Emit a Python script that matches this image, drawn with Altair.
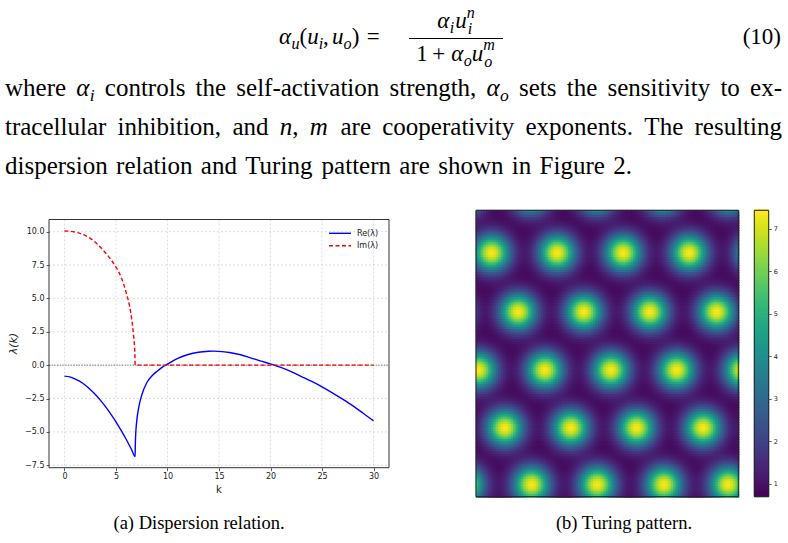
import altair as alt
import numpy as np
import pandas as pd

# ---------------- data ----------------
x_ticks = [0, 5, 10, 15, 20, 25, 30]
y_ticks = [-7.5, -5.0, -2.5, 0.0, 2.5, 5.0, 7.5, 10.0]
cb_ticks = [1, 2, 3, 4, 5, 6, 7]

re_k = [0, 0.5, 1, 1.5, 2, 2.5, 3, 3.5, 4, 4.5, 5, 5.5, 6, 6.5, 6.86,
        6.88, 6.92, 7.0, 7.2, 7.5, 8.0, 8.5, 9.0, 9.5, 10,
        11, 12, 13, 14, 14.5, 15, 16, 17, 18, 19, 20,
        21, 22, 23, 24, 25, 26, 27, 28, 29, 30]
re_v = [-0.82, -0.88, -1.02, -1.22, -1.49, -1.82, -2.2, -2.64, -3.13, -3.67, -4.25, -4.89, -5.57, -6.3, -6.85,
        -5.9, -5.1, -4.3, -3.2, -2.25, -1.3, -0.8, -0.45, -0.15, 0.07,
        0.5, 0.8, 0.97, 1.04, 1.05, 1.03, 0.95, 0.8, 0.57, 0.32, 0.1,
        -0.17, -0.48, -0.85, -1.22, -1.62, -2.07, -2.55, -3.05, -3.6, -4.17]

im_k = [0, 0.5, 1, 1.5, 2, 2.5, 3, 3.5, 4, 4.5, 5, 5.5, 6, 6.3, 6.5, 6.7, 6.8, 6.84, 6.86, 30]
im_v = [10.05, 10.03, 9.97, 9.87, 9.72, 9.5, 9.2, 8.83, 8.4, 7.92, 7.35, 6.6, 5.4, 4.5, 3.6, 2.3, 1.4, 0.7, 0.0, 0.0]

# Turing pattern: spot centres (pattern coordinates)
spot_x = [-11, 54.7, 120.7, 186.7, 252.7,
          15.7, 81.3, 147.3, 213.3, 279.3,
          -23.7, 42.3, 108, 174, 240.7,
          2.3, 69, 135, 200.7, 266.7,
          -37, 29, 95, 160.7, 227.3, 293,
          -10.3, 55.7, 121.3, 188, 252.3]
spot_y = [-15.3] * 5 + [43] * 5 + [102] * 5 + [160.3] * 5 + [218] * 6 + [274.7] * 5
pat_base = 0.70
pat_peak = 7.42
pat_w, pat_h = 262.3, 286.4
cb_lo, cb_hi = 0.69, 7.44

# ---------------- text helpers ----------------
one = alt.Data(values=[{"a": 1}])
SERIF = "Liberation Serif"

# Times-like advance widths (per 1000 em) used only to lay out the justified lines
W_T = dict(zip("abcdefghijklmnopqrstuvwxyz",
               [444, 500, 444, 500, 444, 333, 500, 500, 278, 278, 500, 278, 778, 500, 500, 500, 500, 333, 389, 278, 500, 500, 722, 500, 500, 444]))
W_T.update({"T": 611, "F": 556, ",": 250, ".": 250, "-": 333, "2": 500, "α": 540, "(": 333, ")": 333, " ": 250})


def tw(s, size):
    return sum(W_T.get(c, 500) for c in s) * size / 1000.0


def T(s, x, y, size=25, style="normal", font=SERIF, align="left",
      angle=0, baseline="alphabetic", color="black"):
    return alt.Chart(one).mark_text(
        text=s, font=font, fontSize=size, fontStyle=style, align=align,
        baseline=baseline, angle=angle, color=color
    ).encode(x=alt.value(x), y=alt.value(y))


FS = 25
SUB = 0.7


def token_width(tok):
    return sum(tw(s, FS * sc) for s, st, sc, dy in tok)


def place_line(tokens, y, x0=5, x1=782, justify=True):
    out = []
    widths = [token_width(t) for t in tokens]
    if justify:
        gap = (x1 - x0 - sum(widths)) / (len(tokens) - 1)
    else:
        gap = 0.333 * FS
    x = x0
    for tok, w in zip(tokens, widths):
        xx = x
        for s, st, sc, dy in tok:
            out.append(T(s, xx, y + dy, size=FS * sc, style=st))
            xx += tw(s, FS * sc)
        x += w + gap
    return out


def word(s):
    return [(s, "normal", 1.0, 0)]


def alpha_sub(c):
    return [("α", "italic", 1.0, 0), (c, "italic", SUB, 5)]


texts = []
line1 = [word("where"), alpha_sub("i"), word("controls"), word("the"), word("self-activation"),
         word("strength,"), alpha_sub("o"), word("sets"), word("the"), word("sensitivity"), word("to"), word("ex-")]
line2 = [word("tracellular"), word("inhibition,"), word("and"), [("n", "italic", 1.0, 0), (",", "normal", 1.0, 0)],
         [("m", "italic", 1.0, 0)], word("are"), word("cooperativity"), word("exponents."), word("The"), word("resulting")]
line3 = [word(w) for w in "dispersion relation and Turing pattern are shown in Figure 2.".split(" ")]
texts += place_line(line1, 96)
texts += place_line(line2, 135)
texts += place_line(line3, 174, justify=False)

# equation (10)
EQ = 23
es = EQ * SUB


def seq(pieces, x, y):
    out = []
    for s, st, sz, dy, adv in pieces:
        out.append(T(s, x, y + dy, size=sz, style=st))
        x += adv if adv is not None else tw(s, sz)
    return out, x


main_pieces = [("α", "italic", EQ, 0, None), ("u", "italic", es, 5, None), ("(", "normal", EQ, 0, None),
               ("u", "italic", EQ, 0, None), ("i", "italic", es, 5, None), (",", "normal", EQ, 0, 9),
               ("u", "italic", EQ, 0, None), ("o", "italic", es, 5, None), (")", "normal", EQ, 0, 15),
               ("=", "normal", EQ, 0, None)]
eq_main, _ = seq(main_pieces, 279, 44)
texts += eq_main
num_pieces = [("α", "italic", EQ, 0, None), ("i", "italic", es, 5, 5.5), ("u", "italic", EQ, 0, None)]
num_w = tw("α", EQ) + 5.5 + tw("u", EQ) + tw("n", es)
num, nx_end = seq(num_pieces, 456 - num_w / 2, 28)
texts += num + [T("n", nx_end, 18, size=es, style="italic"), T("i", nx_end + 1, 34, size=es, style="italic")]
den_pieces = [("1", "normal", EQ, 0, 16), ("+", "normal", EQ, 0, 19), ("α", "italic", EQ, 0, None),
              ("o", "italic", es, 5, None), ("u", "italic", EQ, 0, None)]
den_w = 16 + 19 + tw("α", EQ) + tw("o", es) + tw("u", EQ) + tw("m", es)
den, dx_end = seq(den_pieces, 456 - den_w / 2, 61)
texts += den + [T("m", dx_end, 50, size=es, style="italic"), T("o", dx_end + 1, 67, size=es, style="italic")]
texts += [T("(10)", 781, 44, size=EQ, align="right")]
frac_bar = alt.Chart(one).mark_rule(color="black", strokeWidth=1).encode(
    x=alt.value(409), x2=alt.value(503), y=alt.value(38.5))

# captions
texts += [
    T("(a) Dispersion relation.", 199, 529, size=18.5, align="center"),
    T("(b) Turing pattern.", 624, 529, size=18.5, align="center"),
]

# ---------------- left plot ----------------
L, R, TOP, BOT = 49, 389, 219.5, 467.7
xs_l = alt.Scale(domain=[-1.5, 31.5], range=[L, R], nice=False, zero=False)
ys_l = alt.Scale(domain=[-7.68, 10.91], range=[BOT, TOP], nice=False, zero=False)
ax_x = alt.Axis(values=x_ticks, orient="bottom", offset=-(543 - BOT), domain=False, grid=False,
                tickSize=3, tickColor="#333", tickWidth=0.8, labelFont="DejaVu Sans", labelFontSize=8,
                labelColor="#222", labelPadding=2, title=None, format="d")
ax_y = alt.Axis(values=y_ticks, orient="left", offset=-L, domain=False, grid=False,
                tickSize=3, tickColor="#333", tickWidth=0.8, labelFont="DejaVu Sans", labelFontSize=8,
                labelColor="#222", labelPadding=2, title=None, format=".1f")

df_xt = pd.DataFrame({"k": x_ticks})
df_yt = pd.DataFrame({"v": y_ticks})
grid_x = alt.Chart(df_xt).mark_rule(color="#d4d4d4", strokeWidth=0.8, strokeDash=[2, 2]).encode(
    x=alt.X("k:Q", scale=xs_l, axis=ax_x), y=alt.value(TOP), y2=alt.value(BOT))
grid_y = alt.Chart(df_yt).mark_rule(color="#d4d4d4", strokeWidth=0.8, strokeDash=[2, 2]).encode(
    y=alt.Y("v:Q", scale=ys_l, axis=ax_y), x=alt.value(L), x2=alt.value(R))
zero_line = alt.Chart(pd.DataFrame({"v": [0.0]})).mark_rule(color="#444", strokeWidth=0.8, strokeDash=[1.2, 1.5]).encode(
    y=alt.Y("v:Q", scale=ys_l, axis=ax_y), x=alt.value(L), x2=alt.value(R))
re_line = alt.Chart(pd.DataFrame({"k": re_k, "v": re_v})).mark_line(
    color="#0000ff", strokeWidth=1.4, interpolate="monotone").encode(
    x=alt.X("k:Q", scale=xs_l, axis=ax_x), y=alt.Y("v:Q", scale=ys_l, axis=ax_y), order="k:Q")
im_line = alt.Chart(pd.DataFrame({"k": im_k, "v": im_v})).mark_line(
    color="#ff0000", strokeWidth=1.4, strokeDash=[4, 2.5], interpolate="monotone").encode(
    x=alt.X("k:Q", scale=xs_l, axis=ax_x), y=alt.Y("v:Q", scale=ys_l, axis=ax_y), order="k:Q")
frame_l = alt.Chart(one).mark_rect(fillOpacity=0, stroke="#333", strokeWidth=1).encode(
    x=alt.value(L), x2=alt.value(R), y=alt.value(TOP), y2=alt.value(BOT))

leg = [
    alt.Chart(one).mark_rule(color="#0000ff", strokeWidth=1.4).encode(x=alt.value(329), x2=alt.value(351), y=alt.value(233.3)),
    alt.Chart(one).mark_rule(color="#ff0000", strokeWidth=1.4, strokeDash=[4, 2.5]).encode(x=alt.value(329), x2=alt.value(351), y=alt.value(245.7)),
    T("Re(λ)", 357, 233.6, size=8, font="DejaVu Sans", baseline="middle", color="#222"),
    T("Im(λ)", 357, 246, size=8, font="DejaVu Sans", baseline="middle", color="#222"),
    T("k", (L + R) / 2, 490, size=10, font="DejaVu Sans", align="center", baseline="middle", color="#222"),
    T("λ(k)", 13.5, (TOP + BOT) / 2, size=11, font="DejaVu Sans", style="italic", align="center",
      baseline="middle", angle=270, color="#222"),
]

left_plot = alt.layer(grid_x, grid_y, zero_line, re_line, im_line, frame_l)

# ---------------- heatmap ----------------
HL, HR, HT, HB = 476, 738.3, 210.3, 496.7
nx, ny = 105, 115
dx, dy = pat_w / nx, pat_h / ny
cx = (np.arange(nx) + 0.5) * dx
cy = (np.arange(ny) + 0.5) * dy
GX, GY = np.meshgrid(cx, cy)
sig = 12.7
F = np.zeros_like(GX)
for sx, sy in zip(spot_x, spot_y):
    F += np.exp(-((GX - sx) ** 2 + (GY - sy) ** 2) / (2 * sig ** 2))
F = pat_base + (pat_peak - pat_base) * F
hdf = pd.DataFrame({
    "x0": (GX - dx / 2).ravel(), "x1": (GX + dx / 2 + 0.8).ravel(),
    "y0": (GY - dy / 2).ravel(), "y1": (GY + dy / 2 + 0.8).ravel(),
    "v": F.ravel().round(3),
})
xs_h = alt.Scale(domain=[0, pat_w], range=[HL, HR], nice=False, zero=False)
ys_h = alt.Scale(domain=[0, pat_h], range=[HT, HB], nice=False, zero=False)
cscale = alt.Scale(scheme="viridis", domain=[cb_lo, cb_hi], clamp=True)
heat = alt.Chart(hdf).mark_rect(strokeWidth=0.6).encode(
    x=alt.X("x0:Q", scale=xs_h, axis=None), x2="x1:Q",
    y=alt.Y("y0:Q", scale=ys_h, axis=None), y2="y1:Q",
    color=alt.Color("v:Q", scale=cscale, legend=None),
    stroke=alt.Stroke("v:Q", scale=cscale, legend=None))
frame_h = alt.Chart(one).mark_rect(fillOpacity=0, stroke="#222", strokeWidth=1).encode(
    x=alt.value(HL), x2=alt.value(HR), y=alt.value(HT), y2=alt.value(HB))

# ---------------- colorbar ----------------
CL, CR = 754.3, 768.7
nb = 120
edges = np.linspace(cb_lo, cb_hi, nb + 1)
cbdf = pd.DataFrame({"a": [0.0] * nb, "b": [1.0] * nb, "lo": edges[:-1], "hi": edges[1:] + 0.02,
                     "v": (edges[:-1] + edges[1:]) / 2})
xs_c = alt.Scale(domain=[0, 1], range=[CL, CR], nice=False, zero=False)
ys_c = alt.Scale(domain=[cb_lo, cb_hi], range=[HB, HT], nice=False, zero=False)
ax_c = alt.Axis(values=cb_ticks, orient="right", offset=-(788 - CR), domain=False, grid=False,
                tickSize=2.5, tickColor="#333", tickWidth=0.8, labelFont="DejaVu Sans", labelFontSize=6.5,
                labelColor="#222", labelPadding=2, title=None, format="d")
cbar = alt.Chart(cbdf).mark_rect(strokeWidth=0.6).encode(
    x=alt.X("a:Q", scale=xs_c, axis=None), x2="b:Q",
    y=alt.Y("lo:Q", scale=ys_c, axis=ax_c), y2="hi:Q",
    color=alt.Color("v:Q", scale=cscale, legend=None),
    stroke=alt.Stroke("v:Q", scale=cscale, legend=None))
frame_c = alt.Chart(one).mark_rect(fillOpacity=0, stroke="#222", strokeWidth=1).encode(
    x=alt.value(CL), x2=alt.value(CR), y=alt.value(HT), y2=alt.value(HB))

chart = alt.layer(
    left_plot,
    alt.layer(heat),
    alt.layer(cbar),
    frame_h, frame_c, frac_bar, *texts, *leg,
).resolve_scale(x="independent", y="independent", color="independent", stroke="independent").properties(
    width=788, height=543, autosize=alt.AutoSizeParams(type="none"), padding=0,
    background="white"
).configure_view(stroke=None)

chart.save("out.html", embed_options={"renderer": "svg", "actions": False})
